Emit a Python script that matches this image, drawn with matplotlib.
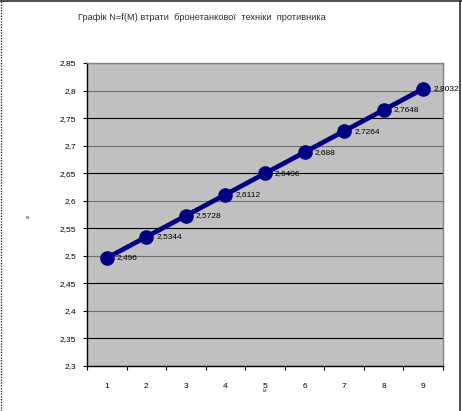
import matplotlib
matplotlib.use("Agg")
import matplotlib.pyplot as plt
from matplotlib.ticker import FuncFormatter, MultipleLocator, FixedLocator
from matplotlib.lines import Line2D

plt.rcParams['font.family'] = ['Liberation Sans', 'DejaVu Sans']

# data
title = "Графік N=f(M) втрати  бронетанкової  техніки  противника"
categories = ["1", "2", "3", "4", "5", "6", "7", "8", "9"]
values = [2.496, 2.5344, 2.5728, 2.6112, 2.6496, 2.688, 2.7264, 2.7648, 2.8032]
y_label = "N"
x_label = "M"


def comma(v, pos=None):
    return ("%g" % round(v, 4)).replace(".", ",")


fig = plt.figure(figsize=(4.62, 4.11), dpi=100)
ax = fig.add_axes([87 / 462, 1 - 366 / 411, 356 / 462, 303 / 411])
ax.set_facecolor("#c0c0c0")

x = list(range(len(categories)))
ax.plot(x, values, color="#000080", lw=3.4, marker="o", ms=9.5, zorder=3)
for xi, v in zip(x, values):
    ax.annotate(comma(v), (xi, v), xytext=(10, 0), textcoords="offset pixels",
                ha="left", va="center", fontsize=6, color="black", zorder=4,
                annotation_clip=False)

ax.set_xlim(-0.5, len(categories) - 0.5)
ax.set_ylim(2.3, 2.85)
ax.yaxis.set_major_locator(MultipleLocator(0.05))
ax.yaxis.set_major_formatter(FuncFormatter(comma))

# category labels in the middle, tick marks between categories
ax.set_xticks(x)
ax.set_xticklabels(categories)
ax.xaxis.set_minor_locator(FixedLocator([i - 0.5 for i in range(len(categories) + 1)]))
ax.tick_params(axis="x", which="major", length=0, pad=12, labelsize=6)
ax.tick_params(axis="x", which="minor", length=3, width=0.8, direction="out")
ax.tick_params(axis="y", length=3, width=0.8, pad=5, labelsize=6)

ax.grid(axis="y", color="black", lw=0.8)
for i, gl in enumerate(ax.get_ygridlines()):
    if i % 2 == 1:
        gl.set_color("#6e6e6e")
ax.set_axisbelow(True)

for s in ("top", "right"):
    ax.spines[s].set_color("#808080")
    ax.spines[s].set_linewidth(1.0)
for s in ("left", "bottom"):
    ax.spines[s].set_color("black")
    ax.spines[s].set_linewidth(1.0)

fig.text(202 / 462, 1 - 17 / 411, title, ha="center", va="center", fontsize=6.7, color="#303030")
fig.text(27 / 462, 1 - 218 / 411, y_label, ha="center", va="center", fontsize=3)
fig.text(264 / 462, 1 - 391 / 411, x_label, ha="center", va="center", fontsize=3)

# outer chart border
fig.add_artist(Line2D([0, 1], [0.998, 0.998], transform=fig.transFigure, color="#303030", lw=1.2))
fig.add_artist(Line2D([0.996, 0.996], [0, 1], transform=fig.transFigure, color="#303030", lw=1.2))
fig.add_artist(Line2D([0.002, 0.002], [0, 1], transform=fig.transFigure, color="#303030", lw=1.0, ls=(0, (1, 1))))

fig.savefig("out.png", dpi=100)
